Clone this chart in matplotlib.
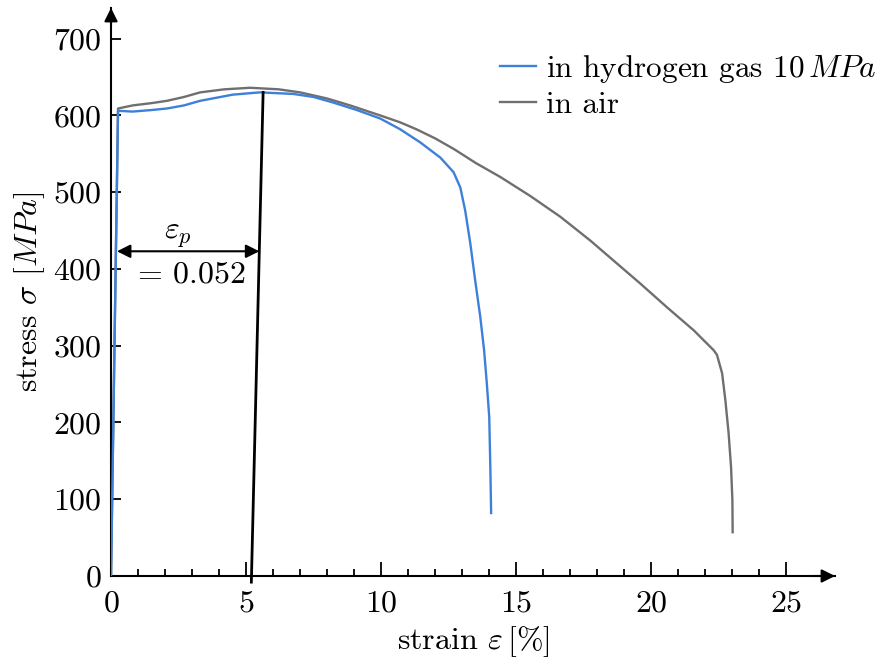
import matplotlib
matplotlib.use("Agg")
import matplotlib.pyplot as plt
import numpy as np

plt.rcParams['font.family'] = 'cmr10'
plt.rcParams['mathtext.fontset'] = 'cm'
plt.rcParams['axes.formatter.use_mathtext'] = True
plt.rcParams['axes.unicode_minus'] = False

# stress-strain curve, specimen tested in hydrogen gas (10 MPa)
h2_strain = [0, 0.26, 0.8, 1.5, 2.07, 2.7, 3.3, 4.5, 5.5, 6.74, 7.5, 8.2, 9.1,
             9.96, 10.7, 11.44, 12.19, 12.68, 12.93, 13.11, 13.3, 13.48, 13.67,
             13.81, 13.91, 14.0, 14.04, 14.07]
h2_stress = [0, 606, 605, 607, 609, 613, 619, 627, 630, 628, 624, 617, 607,
             596, 582, 565, 545, 526, 506, 476, 433, 385, 337,
             294, 251, 207, 142, 82]

# stress-strain curve, specimen tested in air
air_strain = [0, 0.26, 0.8, 1.5, 2.07, 2.7, 3.3, 4.2, 5.15, 6.2, 7.0, 8.0, 8.85,
              9.96, 10.7, 11.3, 12.0, 12.7, 13.5, 14.4, 15.52, 16.63, 17.74,
              18.73, 19.59, 20.58, 21.57, 22.31, 22.43, 22.62, 22.74, 22.86,
              22.95, 23.0, 23.01]
air_stress = [0, 609, 613, 616, 619, 624, 630, 634, 636, 634, 630, 622, 613,
              600, 591, 582, 570, 556, 538, 520, 495, 468, 437,
              407, 381, 350, 320, 294, 288, 264, 229, 186,
              142, 99, 57]

# plastic strain after unloading (in %), and the unloading line end
eps_p = 5.2
unload_top = (5.63, 630)
arrow_stress = 423

x_ticks = [0, 5, 10, 15, 20, 25]
y_ticks = [0, 100, 200, 300, 400, 500, 600, 700]

fig = plt.figure(figsize=(8.79, 6.61), dpi=100)
ax = fig.add_axes([0.1263, 0.1286, 0.8237, 0.8594])

blue = '#3d80d9'
gray = '#6f6f6f'
fs = 23
ax.plot(h2_strain, h2_stress, color=blue, lw=1.7, solid_joinstyle='round',
        label=r'in hydrogen gas $10\,MPa$', zorder=3)
ax.plot(air_strain, air_stress, color=gray, lw=1.7, solid_joinstyle='round',
        label='in air', zorder=2)

# unloading line through the plastic strain
slope = (unload_top[0] - eps_p) / unload_top[1]
y_low = -8
ax.plot([eps_p + slope * y_low, unload_top[0]], [y_low, unload_top[1]],
        color='black', lw=2.0, clip_on=False, zorder=4)

# plastic strain dimension arrow
x_end = eps_p + slope * arrow_stress
ax.annotate('', xy=(0.22, arrow_stress), xytext=(x_end, arrow_stress),
            arrowprops=dict(arrowstyle='<|-|>', color='black', lw=1.5,
                            mutation_scale=20, shrinkA=0, shrinkB=0))
ax.text(2.48, 442, r'$\varepsilon_p$', fontsize=fs, ha='center', va='center')
ax.text(2.9, 392, r'$=\,0.052$', fontsize=fs, ha='center', va='center')

ax.set_xlim(0, 26.8)
ax.set_ylim(0, 740)
for s in ['top', 'right']:
    ax.spines[s].set_visible(False)
for s in ['left', 'bottom']:
    ax.spines[s].set_linewidth(1.5)

# arrowheads at the ends of the axes
ax.annotate('', xy=(1.0, 0), xytext=(0.97, 0), xycoords='axes fraction',
            arrowprops=dict(arrowstyle='-|>', color='black', lw=1.5,
                            mutation_scale=20, shrinkA=0, shrinkB=0))
ax.annotate('', xy=(0, 1.0), xytext=(0, 0.97), xycoords='axes fraction',
            arrowprops=dict(arrowstyle='-|>', color='black', lw=1.5,
                            mutation_scale=20, shrinkA=0, shrinkB=0))

ax.set_xticks(x_ticks)
ax.set_xticks(np.arange(0, 26, 1), minor=True)
ax.set_yticks(y_ticks)
ax.tick_params(axis='x', which='major', direction='in', length=10, width=1.3,
               pad=10, labelsize=fs)
ax.tick_params(axis='x', which='minor', direction='in', length=5, width=1.3)
ax.tick_params(axis='y', which='major', direction='in', length=7, width=1.3,
               pad=7, labelsize=fs)

ax.set_xlabel(r'strain $\varepsilon\,[\%]$', fontsize=fs, labelpad=5)
ax.set_ylabel(r'stress $\sigma$ $[MPa]$', fontsize=fs, labelpad=4)

ax.legend(loc='upper right', bbox_to_anchor=(1.057, 0.921), frameon=False,
          fontsize=22.5, handlelength=1.15, handletextpad=0.3,
          labelspacing=0.2, borderpad=0, borderaxespad=0)

fig.savefig('out.png', dpi=100)
